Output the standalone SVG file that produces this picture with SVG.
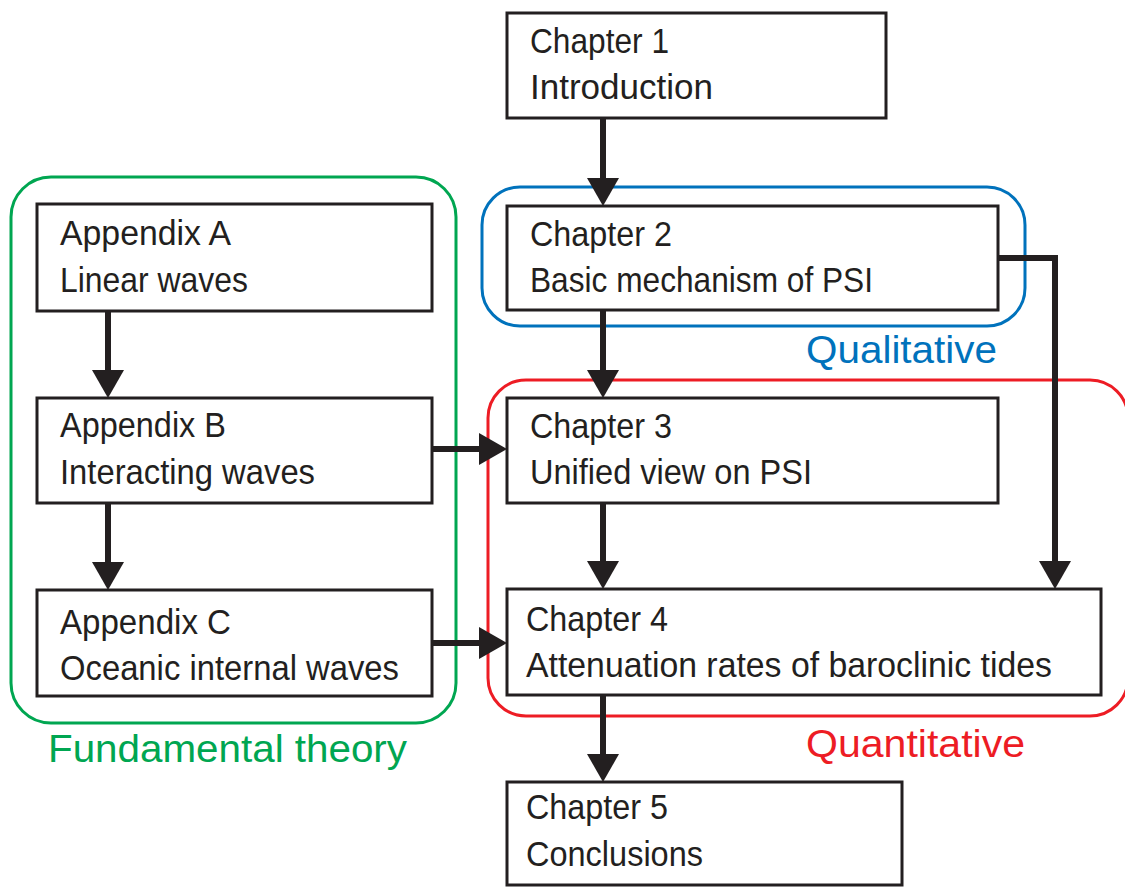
<svg xmlns="http://www.w3.org/2000/svg" width="1125" height="887" viewBox="0 0 1125 887">
<style>
.box{fill:#fff;stroke:#231f20;stroke-width:3}
.t{font-family:"Liberation Sans",Arial,sans-serif;font-size:35px;fill:#231f20}
.lbl{font-family:"Liberation Sans",Arial,sans-serif;font-size:38px}
.frame{fill:none;stroke-width:3}
.conn{fill:none;stroke:#231f20;stroke-width:6;stroke-linejoin:miter;marker-end:url(#ah)}
</style>
<defs>
<marker id="ah" markerUnits="userSpaceOnUse" markerWidth="28" markerHeight="32" refX="22" refY="16" orient="auto" viewBox="0 0 28 32">
<path d="M0,0 L28,16 L0,32 z" fill="#231f20"/>
</marker>
</defs>
<rect width="1125" height="887" fill="#fff"/>
<g id="frames">
<rect class="frame" x="11" y="177" width="445" height="546" rx="40" stroke="#00a651"/>
<rect class="frame" x="482" y="187" width="543" height="139" rx="38" stroke="#0072bc"/>
<rect class="frame" x="488" y="380" width="640" height="336" rx="38" stroke="#ed1c24"/>
</g>
<g id="ch1"><rect class="box" x="507" y="13" width="379" height="105"/>
<text class="t" x="530" y="53" textLength="139" lengthAdjust="spacingAndGlyphs">Chapter 1</text>
<text class="t" x="530" y="99" textLength="183" lengthAdjust="spacingAndGlyphs">Introduction</text></g>
<g id="ch2"><rect class="box" x="507" y="206" width="491" height="104"/>
<text class="t" x="530" y="246" textLength="142" lengthAdjust="spacingAndGlyphs">Chapter 2</text>
<text class="t" x="530" y="292" textLength="343" lengthAdjust="spacingAndGlyphs">Basic mechanism of PSI</text></g>
<g id="ch3"><rect class="box" x="507" y="398" width="491" height="105"/>
<text class="t" x="530" y="438" textLength="142" lengthAdjust="spacingAndGlyphs">Chapter 3</text>
<text class="t" x="530" y="484" textLength="282" lengthAdjust="spacingAndGlyphs">Unified view on PSI</text></g>
<g id="ch4"><rect class="box" x="507" y="589" width="594" height="106"/>
<text class="t" x="526" y="631" textLength="142" lengthAdjust="spacingAndGlyphs">Chapter 4</text>
<text class="t" x="526" y="677" textLength="526" lengthAdjust="spacingAndGlyphs">Attenuation rates of baroclinic tides</text></g>
<g id="ch5"><rect class="box" x="507" y="782" width="395" height="103"/>
<text class="t" x="526" y="819" textLength="142" lengthAdjust="spacingAndGlyphs">Chapter 5</text>
<text class="t" x="526" y="866" textLength="177" lengthAdjust="spacingAndGlyphs">Conclusions</text></g>
<g id="appA"><rect class="box" x="37" y="204" width="395" height="107"/>
<text class="t" x="60" y="245" textLength="171" lengthAdjust="spacingAndGlyphs">Appendix A</text>
<text class="t" x="60" y="292" textLength="188" lengthAdjust="spacingAndGlyphs">Linear waves</text></g>
<g id="appB"><rect class="box" x="37" y="398" width="395" height="105"/>
<text class="t" x="60" y="437" textLength="166" lengthAdjust="spacingAndGlyphs">Appendix B</text>
<text class="t" x="60" y="484" textLength="255" lengthAdjust="spacingAndGlyphs">Interacting waves</text></g>
<g id="appC"><rect class="box" x="37" y="590" width="395" height="106"/>
<text class="t" x="60" y="634" textLength="171" lengthAdjust="spacingAndGlyphs">Appendix C</text>
<text class="t" x="60" y="680" textLength="339" lengthAdjust="spacingAndGlyphs">Oceanic internal waves</text></g>
<g id="labels">
<text class="lbl" x="806" y="363" fill="#0072bc" textLength="191" lengthAdjust="spacingAndGlyphs">Qualitative</text>
<text class="lbl" x="806" y="757" fill="#ed1c24" textLength="219" lengthAdjust="spacingAndGlyphs">Quantitative</text>
<text class="lbl" x="48" y="762" fill="#00a651" textLength="359" lengthAdjust="spacingAndGlyphs">Fundamental theory</text>
</g>
<g id="connectors">
<path class="conn" d="M603,118 L603,200"/>
<path class="conn" d="M603,310 L603,392"/>
<path class="conn" d="M603,503 L603,583"/>
<path class="conn" d="M603,695 L603,776"/>
<path class="conn" d="M108,311 L108,392"/>
<path class="conn" d="M108,503 L108,584"/>
<path class="conn" d="M432,449 L501,449"/>
<path class="conn" d="M432,643 L501,643"/>
<path class="conn" d="M998,258 L1055,258 L1055,583"/>
</g>
</svg>
